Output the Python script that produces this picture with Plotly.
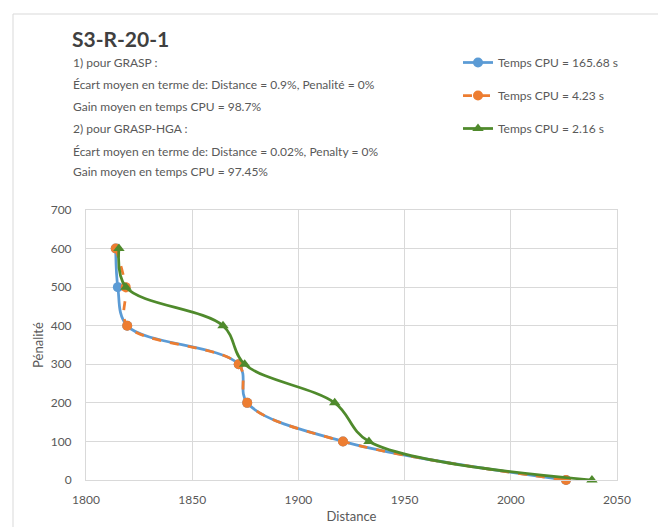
import plotly.graph_objects as go

# ---- data ----
penalite = [600, 500, 400, 300, 200, 100, 0]
dist_grasp_exact = [1814, 1815, 1819.4, 1871.9, 1875.9, 1921, 2026]   # Temps CPU = 165.68 s
dist_grasp = [1814, 1818.7, 1819.4, 1871.9, 1875.9, 1921, 2026]       # Temps CPU = 4.23 s
dist_grasp_hga = [1815.5, 1818.8, 1864.5, 1874.7, 1917.1, 1933.2, 2038.2]  # Temps CPU = 2.16 s

names = ["Temps CPU = 165.68 s", "Temps CPU = 4.23 s", "Temps CPU = 2.16 s"]
title_text = "S3-R-20-1"
info_lines = [
    "1) pour GRASP :",
    "Écart moyen en terme de: Distance = 0.9%, Penalité = 0%",
    "Gain moyen en temps CPU = 98.7%",
    "2) pour GRASP-HGA :",
    "Écart moyen en terme de: Distance = 0.02%, Penalty = 0%",
    "Gain moyen en temps CPU = 97.45%",
]

FONT = "Lato, Roboto, sans-serif"
GRAY = "#595959"

W, H = 666, 527
L, R, T, B = 78, 57, 202, 55
PW = W - L - R
PH = H - T - B


def px_x(p):
    return (p - L) / PW


def px_y(p):
    return (H - B - p) / PH


fig = go.Figure()
fig.add_trace(go.Scatter(
    x=dist_grasp_exact, y=penalite, name=names[0], mode="lines+markers",
    line=dict(color="#5B9BD5", width=2.75, shape="spline"),
    marker=dict(symbol="circle", size=10, color="#5B9BD5"),
    legendgroup="a", cliponaxis=False))
fig.add_trace(go.Scatter(
    x=dist_grasp, y=penalite, name=names[1], mode="lines+markers",
    line=dict(color="#ED7D31", width=2.75, shape="spline", dash="dash"),
    marker=dict(symbol="circle", size=10, color="#ED7D31"),
    legendgroup="b", cliponaxis=False))
fig.add_trace(go.Scatter(
    x=dist_grasp_hga, y=penalite, name=names[2], mode="lines+markers",
    line=dict(color="#4F8A2C", width=2.75, shape="spline"),
    marker=dict(symbol="triangle-up", size=10, color="#4F8A2C"),
    legendgroup="c", cliponaxis=False))

annotations = [dict(
    text=title_text, xref="paper", yref="paper", x=px_x(62), y=px_y(30),
    xanchor="left", yanchor="middle", showarrow=False,
    font=dict(family=FONT, size=21, color="#404040", weight="bold"))]
line_ys = [55, 77, 99, 121, 143, 164]
for txt, yy in zip(info_lines, line_ys):
    annotations.append(dict(
        text=txt, xref="paper", yref="paper", x=px_x(63), y=px_y(yy),
        xanchor="left", yanchor="middle", showarrow=False,
        font=dict(family=FONT, size=12, color=GRAY)))

fig.update_layout(
    width=W, height=H,
    margin=dict(l=L, r=R, t=T, b=B),
    paper_bgcolor="white", plot_bgcolor="white",
    font=dict(family=FONT, size=12, color=GRAY),
    showlegend=True,
    legend=dict(x=px_x(450), y=px_y(40), xanchor="left", yanchor="top",
                font=dict(family=FONT, size=12, color=GRAY),
                tracegroupgap=14, bgcolor="rgba(0,0,0,0)"),
    annotations=annotations,
    shapes=[dict(type="rect", xref="paper", yref="paper",
                 x0=px_x(5), x1=px_x(664), y0=px_y(540), y1=px_y(6),
                 line=dict(color="#d9d9d9", width=1), fillcolor="rgba(0,0,0,0)",
                 layer="below")],
)
fig.update_xaxes(range=[1800, 2050], dtick=50, tick0=1800, automargin=False,
                 showgrid=True, gridcolor="#d9d9d9", gridwidth=1,
                 showline=True, mirror=True, linecolor="#d9d9d9",
                 zeroline=False, ticks="", ticklabelstandoff=9,
                 tickfont=dict(family=FONT, size=12, color=GRAY),
                 title=dict(text="Distance", standoff=5,
                            font=dict(family=FONT, size=13, color=GRAY)))
fig.update_yaxes(range=[0, 700], dtick=100, tick0=0, automargin=False,
                 showgrid=True, gridcolor="#d9d9d9", gridwidth=1,
                 showline=True, mirror=True, linecolor="#d9d9d9",
                 zeroline=True, zerolinecolor="#bfbfbf", zerolinewidth=1,
                 ticks="", ticklabelstandoff=11,
                 tickfont=dict(family=FONT, size=12, color=GRAY),
                 title=dict(text="Pénalité", standoff=4,
                            font=dict(family=FONT, size=13, color=GRAY)))

fig.write_html("out.html")
